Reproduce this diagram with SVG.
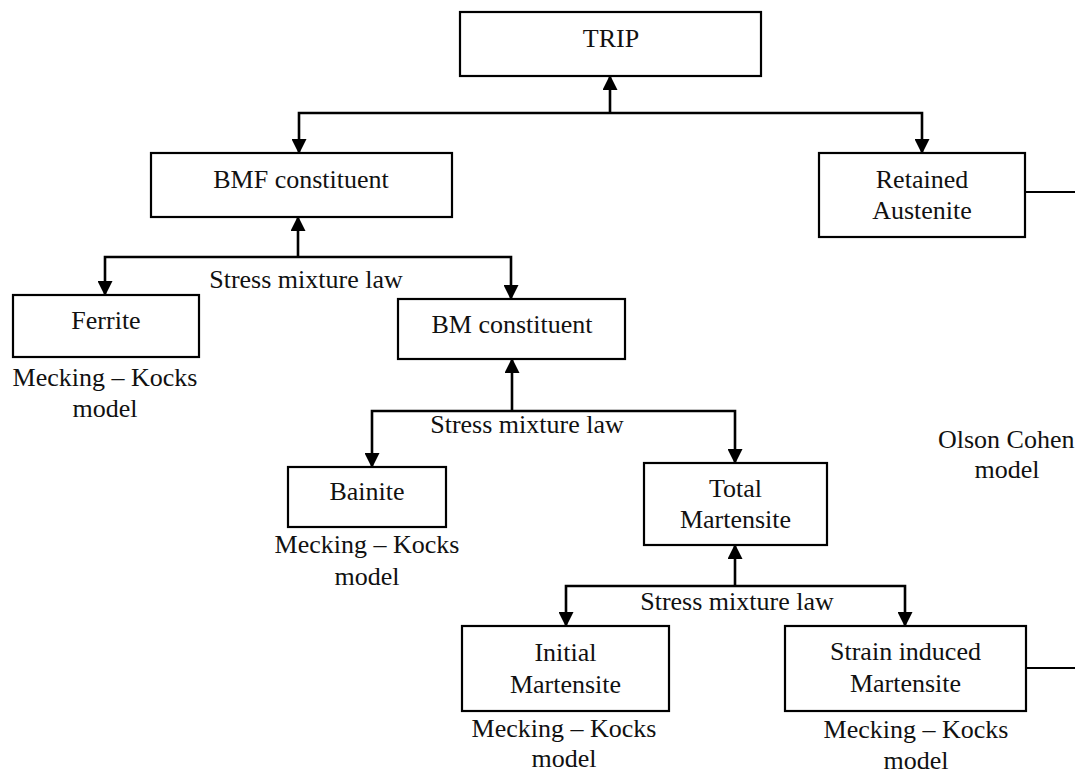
<svg xmlns="http://www.w3.org/2000/svg" width="1075" height="774" viewBox="0 0 1075 774">
<style>
  .box { fill: #ffffff; stroke: #000000; stroke-width: 2.2; }
  .conn { fill: none; stroke: #000000; stroke-width: 2.6; }
  .plain { fill: none; stroke: #000000; stroke-width: 2.2; }
  text { font-family: "Liberation Serif", "Times New Roman", serif; font-size: 26px; fill: #111111; text-anchor: middle; }
  .start { text-anchor: start; }
</style>
<defs>
  <marker id="arrow" markerUnits="userSpaceOnUse" markerWidth="15" markerHeight="15" refX="13" refY="7.5" orient="auto">
    <path d="M0,0 L15,7.5 L0,15 z" fill="#000000"/>
  </marker>
</defs>
<rect width="1075" height="774" fill="#ffffff"/>

<g id="connectors">
  <path class="conn" d="M610,113 V77" marker-end="url(#arrow)"/>
  <path class="conn" d="M610,113 H299 V152" marker-end="url(#arrow)"/>
  <path class="conn" d="M610,113 H922 V152" marker-end="url(#arrow)"/>

  <path class="conn" d="M298,257 V218" marker-end="url(#arrow)"/>
  <path class="conn" d="M298,257 H105 V294" marker-end="url(#arrow)"/>
  <path class="conn" d="M298,257 H511 V298" marker-end="url(#arrow)"/>

  <path class="conn" d="M512,411 V360" marker-end="url(#arrow)"/>
  <path class="conn" d="M512,411 H372 V466" marker-end="url(#arrow)"/>
  <path class="conn" d="M512,411 H735 V462" marker-end="url(#arrow)"/>

  <path class="conn" d="M735,586 V546" marker-end="url(#arrow)"/>
  <path class="conn" d="M735,586 H566 V625" marker-end="url(#arrow)"/>
  <path class="conn" d="M735,586 H905 V625" marker-end="url(#arrow)"/>

  <path class="plain" d="M1025,192 H1075"/>
  <path class="plain" d="M1026,668 H1075"/>
</g>

<g id="trip">
  <rect class="box" x="460" y="12" width="301" height="64"/>
  <text x="611" y="47">TRIP</text>
</g>

<g id="bmf">
  <rect class="box" x="151" y="153" width="301" height="64"/>
  <text x="301" y="188">BMF constituent</text>
</g>

<g id="retained-austenite">
  <rect class="box" x="819" y="153" width="206" height="84"/>
  <text x="922" y="188">Retained</text>
  <text x="922" y="219">Austenite</text>
</g>

<g id="label-smx1">
  <text x="306" y="288">Stress mixture law</text>
</g>

<g id="ferrite">
  <rect class="box" x="13" y="295" width="186" height="62"/>
  <text x="106" y="329">Ferrite</text>
  <text x="105" y="386">Mecking – Kocks</text>
  <text x="105" y="417">model</text>
</g>

<g id="bm">
  <rect class="box" x="398" y="299" width="227" height="60"/>
  <text x="512" y="333">BM constituent</text>
</g>

<g id="label-smx2">
  <text x="527" y="433">Stress mixture law</text>
</g>

<g id="bainite">
  <rect class="box" x="288" y="467" width="158" height="60"/>
  <text x="367" y="500">Bainite</text>
  <text x="367" y="553">Mecking – Kocks</text>
  <text x="367" y="585">model</text>
</g>

<g id="total-martensite">
  <rect class="box" x="644" y="463" width="183" height="82"/>
  <text x="735.5" y="497">Total</text>
  <text x="735.5" y="528">Martensite</text>
</g>

<g id="olson-cohen">
  <text class="start" x="938" y="448">Olson Cohen</text>
  <text x="1007" y="478">model</text>
</g>

<g id="label-smx3">
  <text x="737" y="610">Stress mixture law</text>
</g>

<g id="initial-martensite">
  <rect class="box" x="462" y="626" width="207" height="85"/>
  <text x="565.5" y="661">Initial</text>
  <text x="565.5" y="693">Martensite</text>
  <text x="564" y="737">Mecking – Kocks</text>
  <text x="564" y="767">model</text>
</g>

<g id="strain-induced-martensite">
  <rect class="box" x="785" y="626" width="241" height="85"/>
  <text x="905.5" y="660">Strain induced</text>
  <text x="905.5" y="692">Martensite</text>
  <text x="916" y="738">Mecking – Kocks</text>
  <text x="916" y="769">model</text>
</g>
</svg>
